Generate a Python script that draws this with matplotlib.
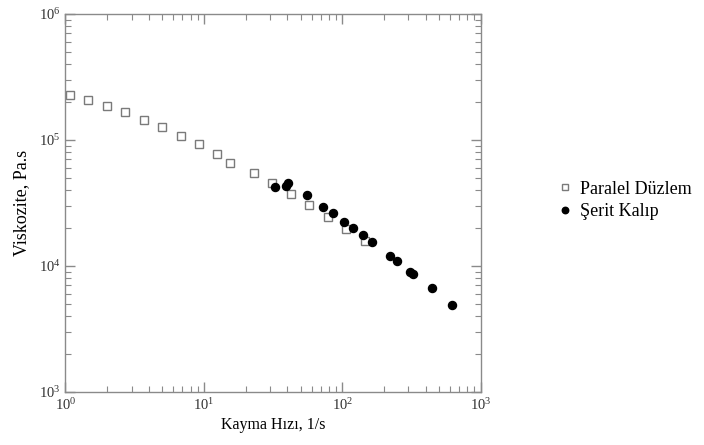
import numpy as np
import matplotlib
matplotlib.use('Agg')
import matplotlib.pyplot as plt
from matplotlib.ticker import LogLocator, NullFormatter

plt.rcParams['font.family'] = ['Liberation Serif', 'DejaVu Serif']
plt.rcParams['mathtext.fontset'] = 'stix'

AXIS = '#8a8a8a'

# Paralel Düzlem (open squares)
paralel_x = [1.07, 1.45, 1.98, 2.68, 3.67, 4.98, 6.78, 9.25, 12.5, 15.5,
             23.0, 31.2, 42.6, 57.7, 78.3, 106, 146]
paralel_y = [2.28e5, 2.07e5, 1.86e5, 1.65e5, 1.44e5, 1.26e5, 1.08e5, 9.25e4,
             7.74e4, 6.53e4, 5.44e4, 4.58e4, 3.71e4, 3.05e4, 2.46e4, 1.98e4, 1.59e4]

# Şerit Kalıp (filled circles)
serit_x = [32.7, 39.2, 40.3, 55.3, 72.8, 85.1, 103, 120, 142, 165,
           220, 246, 307, 324, 445, 614]
serit_y = [4.22e4, 4.31e4, 4.58e4, 3.66e4, 2.92e4, 2.62e4, 2.25e4, 1.99e4,
           1.76e4, 1.55e4, 1.19e4, 1.10e4, 9.02e3, 8.65e3, 6.66e3, 4.90e3]

fig = plt.figure(figsize=(7.04, 4.45), dpi=100)
ax = fig.add_axes([0.093, 0.119, 0.590, 0.850])

ax.plot(paralel_x, paralel_y, linestyle='none', marker='s', markersize=6,
        markerfacecolor='white', markeredgecolor='#7a7a7a', markeredgewidth=1.0,
        label='Paralel Düzlem')
ax.plot(serit_x, serit_y, linestyle='none', marker='o', markersize=5.8,
        color='black', label='Şerit Kalıp')

ax.set_xscale('log')
ax.set_yscale('log')
ax.set_xlim(1, 1000)
ax.set_ylim(1e3, 1e6)

for s in ax.spines.values():
    s.set_color(AXIS)
    s.set_linewidth(1.0)

ax.xaxis.set_major_locator(LogLocator(base=10))
ax.yaxis.set_major_locator(LogLocator(base=10))
ax.xaxis.set_minor_locator(LogLocator(base=10, subs=np.arange(2, 10)))
ax.yaxis.set_minor_locator(LogLocator(base=10, subs=np.arange(2, 10)))
ax.xaxis.set_minor_formatter(NullFormatter())
ax.yaxis.set_minor_formatter(NullFormatter())

ax.tick_params(which='both', direction='in', top=True, right=True, color=AXIS,
               labelsize=10.5, labelcolor='#333333')
ax.tick_params(which='major', length=7, width=1)
ax.tick_params(which='minor', length=4, width=0.8)

ax.set_xlabel('Kayma Hızı, 1/s', fontsize=11.5, labelpad=3)
ax.set_ylabel('Viskozite, Pa.s', fontsize=13, labelpad=6)

fig.legend(loc='center left', bbox_to_anchor=(0.78, 0.55), frameon=False,
           fontsize=13, handletextpad=0.3, labelspacing=0.3,
           handlelength=1.0, borderaxespad=0, markerscale=0.8)

fig.savefig('out.png', dpi=100)
